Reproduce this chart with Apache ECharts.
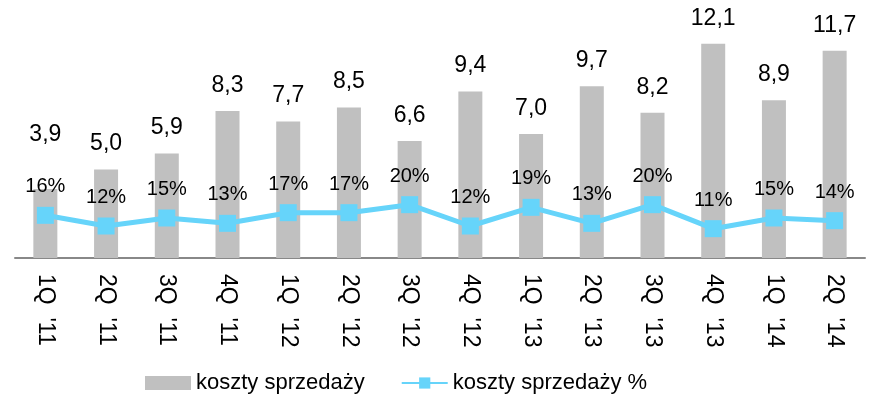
<!DOCTYPE html>
<html>
<head>
<meta charset="utf-8">
<script src="https://cdn.jsdelivr.net/npm/echarts@6/dist/echarts.min.js"></script>
<style>
  html, body { margin: 0; padding: 0; background: #fff; }
  #chart { width: 869px; height: 407px; }
</style>
</head>
<body>
<div id="chart"></div>
<script>
const categories = ["1Q '11", "2Q '11", "3Q '11", "4Q '11", "1Q '12", "2Q '12", "3Q '12",
  "4Q '12", "1Q '13", "2Q '13", "3Q '13", "4Q '13", "1Q '14", "2Q '14"];
const costs = [3.9, 5.0, 5.9, 8.3, 7.7, 8.5, 6.6, 9.4, 7.0, 9.7, 8.2, 12.1, 8.9, 11.7];
const costsPct = [16, 12, 15, 13, 17, 17, 20, 12, 19, 13, 20, 11, 15, 14];

const font = 'Liberation Sans, Arial, sans-serif';

// first bar label sits higher so it clears the 16% label
const barData = costs.map((v, i) => i === 0 ? { value: v, label: { distance: 43 } } : v);

const chart = echarts.init(document.getElementById('chart'));
chart.setOption({
  animation: false,
  textStyle: { fontFamily: font },
  legend: {
    bottom: 8,
    left: 140,
    itemGap: 36,
    itemWidth: 46,
    itemHeight: 14,
    textStyle: { fontSize: 22, color: '#000', fontFamily: font },
    data: [
      { name: 'koszty sprzedaży', icon: 'rect' },
      { name: 'koszty sprzedaży %' }
    ]
  },
  grid: { left: 15, right: 4, top: 10, bottom: 149 },
  xAxis: {
    type: 'category',
    data: categories,
    axisLine: { lineStyle: { color: '#888', width: 2 } },
    axisTick: { show: false },
    axisLabel: {
      rotate: -90,
      fontSize: 23,
      color: '#000',
      margin: 16,
      fontFamily: font,
      formatter: v => v.replace(' ', '  ')
    }
  },
  yAxis: [
    { type: 'value', min: 0, max: 14, show: false, splitLine: { show: false } },
    { type: 'value', min: 0, max: 93, show: false, splitLine: { show: false } }
  ],
  series: [
    {
      name: 'koszty sprzedaży',
      type: 'bar',
      data: barData,
      barWidth: 24,
      itemStyle: { color: '#C0C0C0' },
      label: {
        show: true,
        position: 'top',
        distance: 14,
        fontSize: 23,
        color: '#000',
        fontFamily: font,
        formatter: p => p.value.toFixed(1).replace('.', ',')
      }
    },
    {
      name: 'koszty sprzedaży %',
      type: 'line',
      yAxisIndex: 1,
      data: costsPct,
      symbol: 'rect',
      symbolSize: 17,
      lineStyle: { color: '#66D4FA', width: 5 },
      itemStyle: { color: '#66D4FA' },
      label: {
        show: true,
        position: 'top',
        distance: 10,
        fontSize: 20,
        color: '#000',
        fontFamily: font,
        formatter: p => p.value + '%'
      }
    }
  ]
});
</script>
</body>
</html>
